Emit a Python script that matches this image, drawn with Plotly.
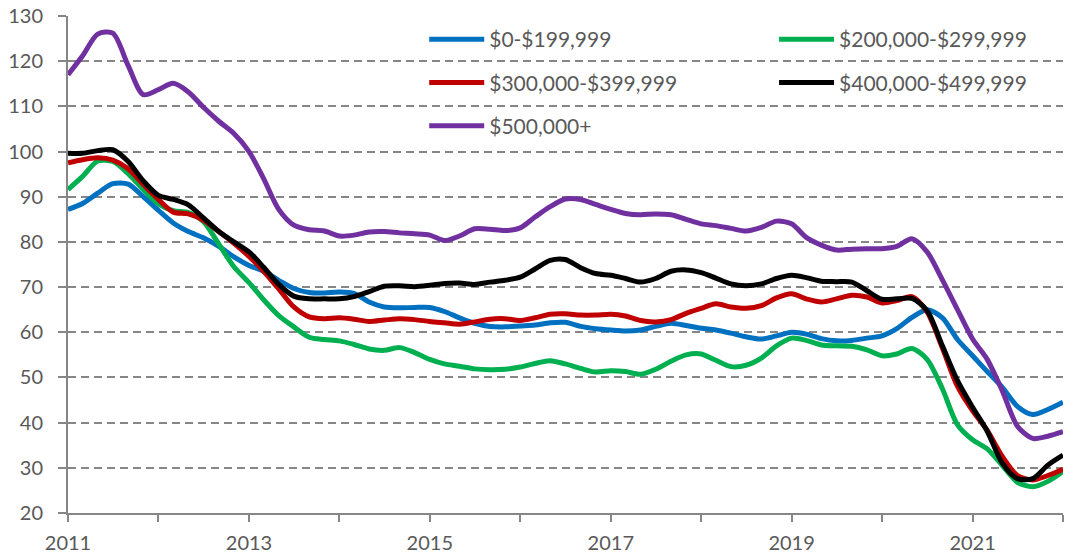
import pandas as pd
import plotly.graph_objects as go

# bi-monthly observations, Jan 2011 .. Jan 2022
dates = pd.date_range("2011-01-01", periods=67, freq="2MS")

band_0_199 = [
    87.2, 88.5, 90.8, 92.9, 92.8, 90.0, 87.0, 84.2, 82.3, 80.9, 79.0, 76.7,
    74.8, 73.5, 71.5, 69.7, 68.8, 68.7, 68.9, 68.6, 66.7, 65.6, 65.4, 65.5,
    65.5, 64.6, 63.2, 62.0, 61.3, 61.2, 61.4, 61.6, 62.1, 62.2, 61.3, 60.8,
    60.5, 60.3, 60.5, 61.3, 62.0, 61.5, 60.9, 60.5, 59.8, 59.0, 58.5, 59.2,
    60.0, 59.6, 58.6, 58.1, 58.2, 58.7, 59.2, 60.8, 63.3, 65.0, 63.2, 58.4,
    54.8, 51.3, 47.8, 43.6, 41.8, 42.9, 44.5,
]
band_200_299 = [
    91.6, 94.5, 97.9, 97.8, 95.1, 91.6, 88.4, 86.9, 86.5, 84.5, 79.5, 74.5,
    71.0, 67.2, 63.7, 61.2, 58.9, 58.4, 58.1, 57.3, 56.3, 56.0, 56.6, 55.5,
    54.0, 53.0, 52.5, 51.9, 51.7, 51.8, 52.3, 53.1, 53.7, 53.0, 52.0, 51.2,
    51.5, 51.3, 50.7, 51.8, 53.6, 55.0, 55.2, 53.8, 52.4, 52.7, 54.3, 57.0,
    58.7, 58.2, 57.2, 57.0, 56.9, 56.1, 54.8, 55.2, 56.4, 54.0, 47.5, 39.5,
    36.2, 34.2, 30.5, 26.8, 25.8, 27.0, 29.2,
]
band_300_399 = [
    97.5, 98.2, 98.6, 98.1, 96.2, 92.7, 89.4, 86.6, 86.2, 84.8, 82.3, 79.7,
    76.8, 73.5, 69.6, 65.6, 63.4, 63.0, 63.2, 62.9, 62.4, 62.7, 63.0, 62.8,
    62.4, 62.1, 61.8, 62.3, 62.9, 63.0, 62.6, 63.2, 64.0, 64.1, 63.8, 63.8,
    64.0, 63.6, 62.6, 62.3, 62.8, 64.2, 65.3, 66.3, 65.6, 65.3, 65.9, 67.6,
    68.5, 67.4, 66.7, 67.4, 68.2, 67.8, 66.5, 67.0, 67.9, 64.5, 56.5, 48.0,
    42.6, 38.3, 32.5, 28.3, 27.3, 28.3, 29.7,
]
band_400_499 = [
    99.6, 99.6, 100.2, 100.4, 97.8, 93.5, 90.3, 89.4, 88.2, 85.3, 82.3, 80.0,
    77.8, 74.4, 70.6, 68.0, 67.4, 67.4, 67.4, 67.9, 69.0, 70.2, 70.3, 70.1,
    70.4, 70.8, 70.9, 70.6, 71.1, 71.5, 72.2, 74.0, 75.9, 76.1, 74.3, 73.0,
    72.6, 71.9, 71.1, 71.9, 73.5, 73.8, 73.2, 72.0, 70.7, 70.3, 70.7, 71.9,
    72.6, 72.1, 71.3, 71.2, 71.1, 69.2, 67.3, 67.4, 67.5, 64.8, 57.0, 49.3,
    43.4, 38.1, 31.0, 27.6, 27.6, 30.6, 32.8,
]
band_500_plus = [
    117.0, 121.2, 126.0, 126.2, 119.0, 112.6, 113.7, 115.1, 113.2, 109.8, 106.7, 104.0,
    100.0, 94.0, 87.2, 83.7, 82.7, 82.4, 81.3, 81.5, 82.2, 82.3, 82.0, 81.8,
    81.5, 80.3, 81.3, 82.9, 82.8, 82.5, 83.1, 85.5, 87.8, 89.5, 89.4, 88.3,
    87.2, 86.3, 86.0, 86.2, 86.0, 85.0, 84.0, 83.6, 83.0, 82.4, 83.2, 84.6,
    84.0, 81.0, 79.3, 78.2, 78.4, 78.5, 78.5, 79.0, 80.7, 77.8, 71.6, 65.0,
    58.5, 54.0, 47.0, 39.2, 36.5, 37.0, 38.0,
]

series = [
    ("$0-$199,999", band_0_199, "#0070C0", "legend"),
    ("$200,000-$299,999", band_200_299, "#00B050", "legend2"),
    ("$300,000-$399,999", band_300_399, "#C00000", "legend"),
    ("$400,000-$499,999", band_400_499, "#000000", "legend2"),
    ("$500,000+", band_500_plus, "#7030A0", "legend"),
]

year_ticks = [f"{y}-01-01" for y in range(2011, 2023)]
year_text = [str(y) if y % 2 == 1 else "" for y in range(2011, 2023)]

fig = go.Figure()
for name, vals, color, leg in series:
    fig.add_trace(go.Scatter(
        x=dates, y=vals, name=name, mode="lines",
        line=dict(color=color, width=5, shape="spline", smoothing=0.8),
        legend=leg, legendgroup=name,
    ))

legend_style = dict(
    font=dict(family="Lato, sans-serif", size=21, color="#595959"),
    bgcolor="rgba(0,0,0,0)", tracegroupgap=13, itemwidth=55,
    xanchor="left", yanchor="top", y=0.994,
)

fig.update_layout(
    width=1065, height=559,
    margin=dict(l=68, r=2, t=16, b=46),
    paper_bgcolor="white", plot_bgcolor="white",
    font=dict(family="Lato, sans-serif", size=20, color="#595959"),
    legend=dict(x=0.358, **legend_style),
    legend2=dict(x=0.7096, **legend_style),
    xaxis=dict(
        range=["2011-01-01", "2022-01-01"],
        tickvals=year_ticks, ticktext=year_text,
        showgrid=False, showline=True, linecolor="#868686", linewidth=2,
        ticks="outside", ticklen=7, tickwidth=2, tickcolor="#868686",
        ticklabelstandoff=4, automargin=False,
    ),
    yaxis=dict(
        range=[20, 130], dtick=10, tick0=20,
        showgrid=True, gridcolor="#868686", gridwidth=1.8, griddash="8px,5px",
        showline=True, linecolor="#868686", linewidth=2,
        ticks="outside", ticklen=8, tickwidth=2, tickcolor="#868686",
        ticklabelstandoff=11, zeroline=False, automargin=False,
    ),
)

# drop the browser's default 8px body margin so the figure sits at the page corner
fig.write_html(
    "out.html",
    config={"displayModeBar": False},
    post_script="document.body.style.margin='0';",
)
